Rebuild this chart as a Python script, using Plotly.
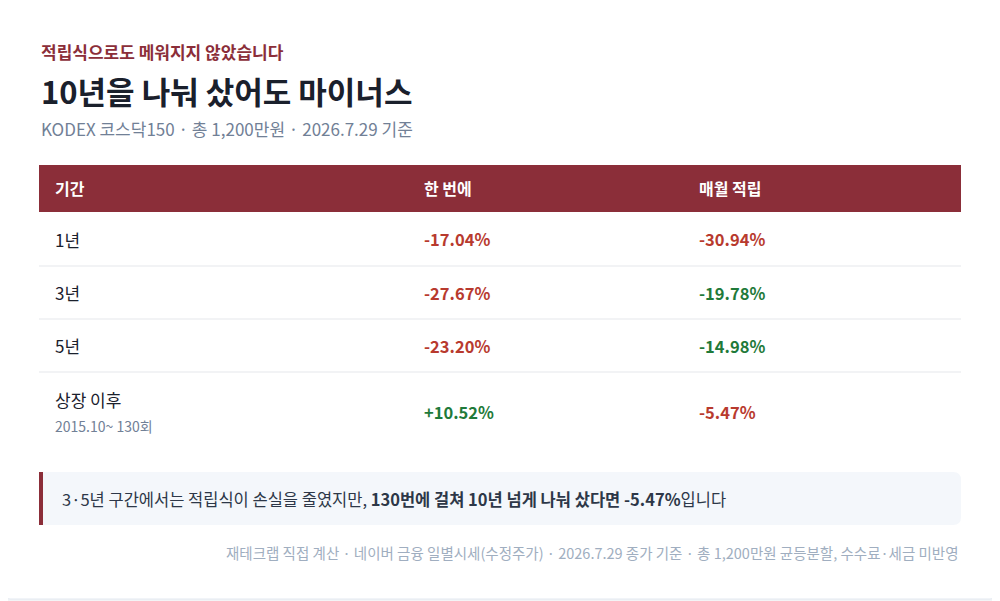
import plotly.graph_objects as go

periods = ["1년", "3년", "5년", "상장 이후"]
period_notes = ["", "", "", "2015.10~ 130회"]
lump_sum = [-17.04, -27.67, -23.20, 10.52]
monthly = [-30.94, -19.78, -14.98, -5.47]
monthly_colors = ["red", "green", "green", "red"]  # vs lump sum
headers = ["기간", "한 번에", "매월 적립"]

RED = "#b83a2e"
GREEN = "#1f7a3a"
BRAND = "#8b2e39"
FONT = "Noto Sans CJK KR"

def pct(v):
    return ("+" if v > 0 else "") + f"{v:.2f}%"

fig = go.Figure()

# card
fig.add_shape(type="path", path="M 10,2 L 990,2 Q 998,2 998,10 L 998,591 Q 998,599 990,599 L 10,599 Q 2,599 2,591 L 2,10 Q 2,2 10,2 Z",
              line=dict(color="#e2e8f0", width=1), fillcolor="white", layer="below")
fig.add_shape(type="path", path="M 10,1 L 990,1 Q 997,1 998,6 L 2,6 Q 3,1 10,1 Z",
              line=dict(width=0), fillcolor=BRAND)

def txt(x, y, s, size, color, bold=False, anchor="left"):
    fig.add_annotation(x=x, y=y, text=f"<b>{s}</b>" if bold else s, showarrow=False,
                       xanchor=anchor, yanchor="middle",
                       font=dict(family=FONT, size=size, color=color))

txt(39, 51, "적립식으로도 메워지지 않았습니다", 17, BRAND, bold=True)
txt(39, 90, "10년을 나눠 샀어도 마이너스", 31, "#1a202c", bold=True)
txt(39, 128, "KODEX 코스닥150 · 총 1,200만원 · 2026.7.29 기준", 17, "#718096")

# header
col_x = [53, 422, 697]
fig.add_shape(type="rect", x0=39, x1=961, y0=165, y1=212, fillcolor=BRAND, line=dict(width=0))
for x, h in zip(col_x, headers):
    txt(x, 188, h, 16, "white", bold=True)

row_top = [212, 266, 319, 372]
row_bot = [266, 319, 372, 452]
for i, p in enumerate(periods):
    yc = (row_top[i] + row_bot[i]) / 2
    if i < len(periods) - 1:
        fig.add_shape(type="line", x0=39, x1=961, y0=row_bot[i], y1=row_bot[i], line=dict(color="#e5e7eb", width=1))
    if period_notes[i]:
        txt(col_x[0], yc - 13, p, 17, "#1a202c")
        txt(col_x[0], yc + 14, period_notes[i], 14, "#718096")
    else:
        txt(col_x[0], yc, p, 17, "#1a202c")
    txt(col_x[1], yc, pct(lump_sum[i]), 16.5, GREEN if lump_sum[i] > 0 else RED, bold=True)
    txt(col_x[2], yc, pct(monthly[i]), 16.5, GREEN if monthly_colors[i] == "green" else RED, bold=True)

# note box
fig.add_shape(type="path", path="M 39,472 L 953,472 Q 961,472 961,480 L 961,517 Q 961,525 953,525 L 39,525 Z",
              fillcolor="#f4f7fb", line=dict(width=0))
fig.add_shape(type="rect", x0=39, x1=43, y0=472, y1=525, fillcolor=BRAND, line=dict(width=0))
txt(60, 499, "3·5년 구간에서는 적립식이 손실을 줄였지만, <b>130번에 걸쳐 10년 넘게 나눠 샀다면 -5.47%</b>입니다", 16.5, "#2d3748")

txt(961, 552, "재테크랩 직접 계산 · 네이버 금융 일별시세(수정주가) · 2026.7.29 종가 기준 · 총 1,200만원 균등분할, 수수료·세금 미반영",
    14.5, "#a0aec0", anchor="right")

# page body has an 8px margin, so the figure is shifted; compensate in the ranges
fig.update_layout(width=992, height=593, margin=dict(l=0, r=0, t=0, b=0),
                  paper_bgcolor="#f3f4f6", plot_bgcolor="#f3f4f6", showlegend=False,
                  xaxis=dict(range=[8, 1000], visible=False, fixedrange=True),
                  yaxis=dict(range=[601, 8], visible=False, fixedrange=True))
fig.write_html("out.html", config={"displayModeBar": False})
